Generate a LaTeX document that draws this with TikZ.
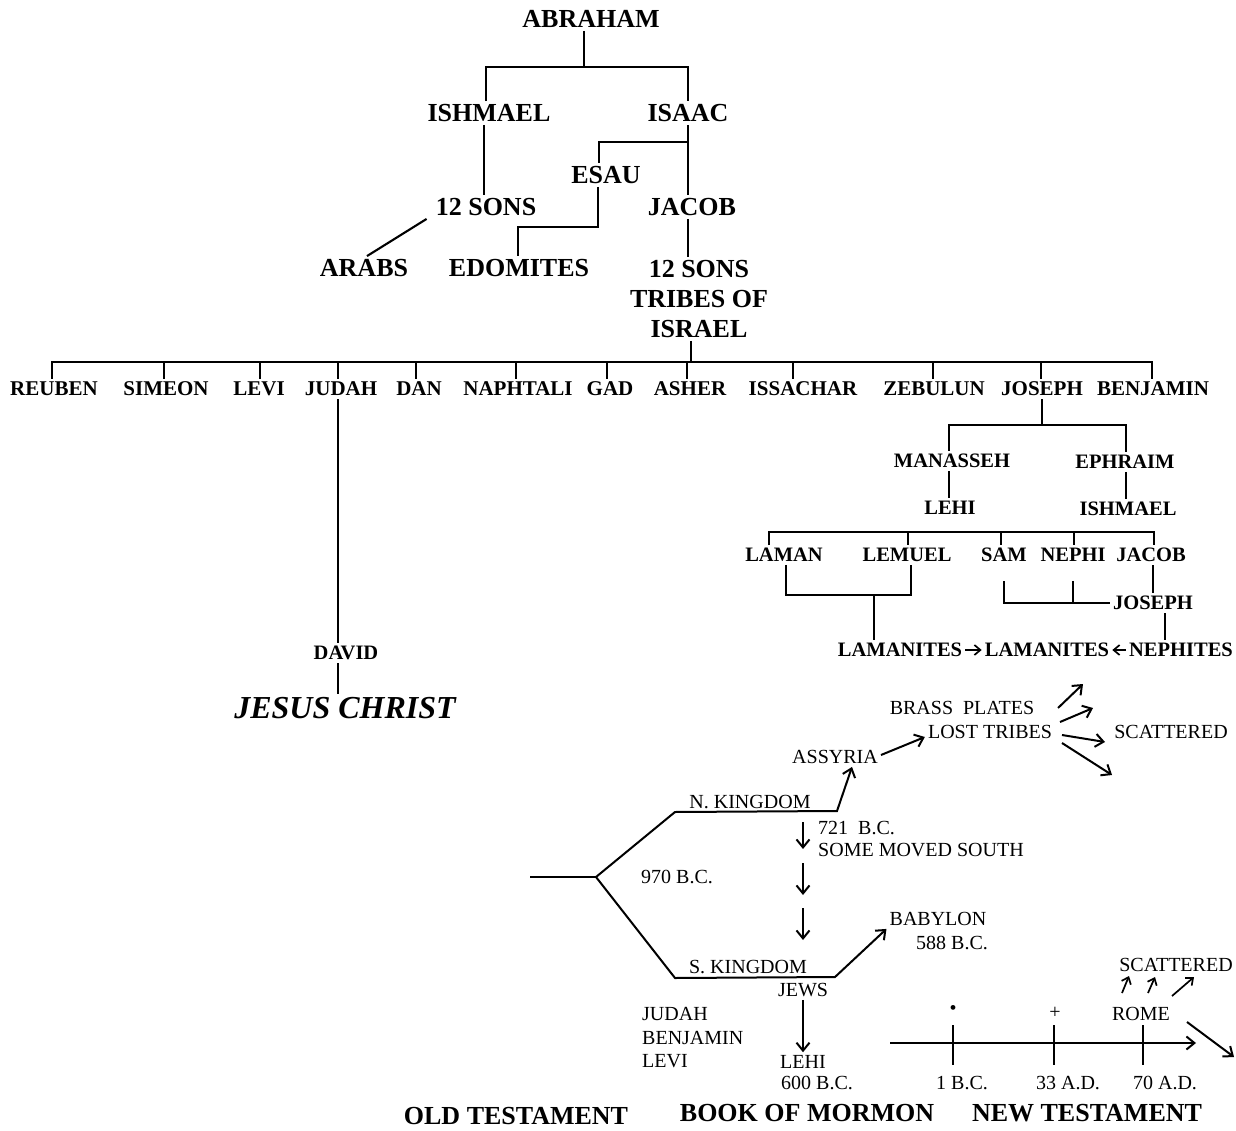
\documentclass[tikz,border=0pt]{standalone}
\usepackage{fontspec}
\setmainfont{Liberation Serif}
\usetikzlibrary{arrows.meta}
\tikzset{
  bigtxt/.style={font=\fontsize{26}{30}\selectfont\bfseries, inner sep=3pt},
  tribetxt/.style={font=\fontsize{21}{24}\selectfont\bfseries, inner sep=3pt},
  midtxt/.style={font=\fontsize{20.5}{24}\selectfont\bfseries, inner sep=3pt},
  regtxt/.style={font=\fontsize{20}{23.5}\selectfont, inner sep=3pt},
  jesustxt/.style={font=\fontsize{32}{36}\selectfont\bfseries\itshape, inner sep=3pt},
  ln/.style={line width=2.1pt},
  arr/.style={line width=2pt, -{Straight Barb[length=8pt,width=13pt]}},
  arrsm/.style={line width=1.7pt, -{Straight Barb[length=6pt,width=10pt]}},
}
\begin{document}
\begin{tikzpicture}[x=1pt,y=-1pt]
\fill[white] (0,0) rectangle (1236,1131);
\useasboundingbox (0,0) rectangle (1236,1131);

% ---------- top family tree ----------
\node[bigtxt] (abraham) at (591,19) {ABRAHAM};
\node[bigtxt] (ishmael) at (489,113) {ISHMAEL};
\node[bigtxt] (isaac) at (688,113) {ISAAC};
\node[bigtxt] (esau) at (606,175) {ESAU};
\node[bigtxt] (sons1) at (486,207) {12 SONS};
\node[bigtxt] (jacob) at (692,207) {JACOB};
\node[bigtxt] (arabs) at (364,268) {ARABS};
\node[bigtxt] (edomites) at (519,268) {EDOMITES};
\node[bigtxt, align=center, anchor=north] (tribes) at (699,257) {12 SONS\\TRIBES OF\\ISRAEL};

\draw[ln] (584,0 |- abraham.south) -- (584,67);
\draw[ln] (486,0 |- ishmael.north) |- (584,67) -| (688,0 |- isaac.north);
\draw[ln] (484,0 |- ishmael.south) -- (484,0 |- sons1.north);
\draw[ln] (688,0 |- isaac.south) -- (688,0 |- jacob.north);
\draw[ln] (688,142) -| (599,0 |- esau.north);
\draw[ln] (598,0 |- esau.south) |- (518,227) -- (518,0 |- edomites.north);
\draw[ln] ([xshift=-6]sons1.south west) -- ([xshift=3]arabs.north);
\draw[ln] (688,0 |- jacob.south) -- (688,0 |- tribes.north);
\draw[ln] (691,0 |- tribes.south) -- (691,362);

% ---------- tribes ----------
\node[tribetxt] (reuben) at (54,389) {REUBEN};
\node[tribetxt] (simeon) at (166,389) {SIMEON};
\node[tribetxt] (levi) at (259,389) {LEVI};
\node[tribetxt] (judah) at (341,389) {JUDAH};
\node[tribetxt] (dan) at (419,389) {DAN};
\node[tribetxt] (naphtali) at (518,389) {NAPHTALI};
\node[tribetxt] (gad) at (610,389) {GAD};
\node[tribetxt] (asher) at (690,389) {ASHER};
\node[tribetxt] (issachar) at (803,389) {ISSACHAR};
\node[tribetxt] (zebulun) at (934,389) {ZEBULUN};
\node[tribetxt] (joseph) at (1042,389) {JOSEPH};
\node[tribetxt] (benjamin) at (1153,389) {BENJAMIN};

\draw[ln] (52,0 |- reuben.north) |- (1152,362) -- (1152,0 |- benjamin.north);
\foreach \n/\x in {simeon/164, levi/260, judah/338, dan/416, naphtali/516, gad/607, asher/687, issachar/793, zebulun/933, joseph/1041}
  \draw[ln] (\x,362) -- (\x,0 |- \n.north);

% ---------- Judah line ----------
\node[midtxt] (david) at (346,653) {DAVID};
\node[jesustxt] (jesus) at (345,708) {JESUS CHRIST};
\draw[ln] (338,0 |- judah.south) -- (338,0 |- david.north);
\draw[ln] (338,0 |- david.south) -- (338,0 |- jesus.north);

% ---------- Joseph line ----------
\node[midtxt] (manasseh) at (952,461) {MANASSEH};
\node[midtxt] (ephraim) at (1125,462) {EPHRAIM};
\node[midtxt] (lehi) at (950,508) {LEHI};
\node[midtxt] (ishmael2) at (1128,509) {ISHMAEL};
\draw[ln] (1042,0 |- joseph.south) -- (1042,425);
\draw[ln] (949,0 |- manasseh.north) |- (1126,425) -- (1126,0 |- ephraim.north);
\draw[ln] (949,0 |- manasseh.south) -- (949,0 |- lehi.north);
\draw[ln] (1126,0 |- ephraim.south) -- (1126,0 |- ishmael2.north);

\node[midtxt] (laman) at (784,555) {LAMAN};
\node[midtxt] (lemuel) at (907,555) {LEMUEL};
\node[midtxt] (sam) at (1004,555) {SAM};
\node[midtxt] (nephi) at (1073,555) {NEPHI};
\node[midtxt] (jacob2) at (1151,555) {JACOB};
\draw[ln] (769,0 |- laman.north) |- (1154,532) -- (1154,0 |- jacob2.north);
\foreach \n/\x in {lemuel/908, sam/1001, nephi/1074}
  \draw[ln] (\x,532) -- (\x,0 |- \n.north);

\node[midtxt] (joseph2) at (1153,603) {JOSEPH};
\node[midtxt] (lam1) at (900,650) {LAMANITES};
\node[midtxt] (lam2) at (1047,650) {LAMANITES};
\node[midtxt] (nephites) at (1181,650) {NEPHITES};

\draw[ln] (786,0 |- laman.south) |- (911,595) -- (911,0 |- lemuel.south);
\coordinate (llmid) at (874,595);
\draw[ln] (llmid) -- (llmid |- lam1.north);
\draw[ln] ([yshift=-16]sam.south) |- (joseph2.west);
\draw[ln] ([yshift=-16]nephi.south) -- (nephi.south |- joseph2.west);
\draw[ln] (1153,0 |- jacob2.south) -- (1153,0 |- joseph2.north);
\draw[ln] (1165,0 |- joseph2.south) -- (1165,0 |- nephites.north);
\draw[arrsm] (lam1) -- (lam2);
\draw[arrsm] (nephites) -- (lam2);

% ---------- kingdoms ----------
\coordinate (start) at (530,877);
\coordinate (fork) at (596,877);
\coordinate (nk1) at (675,812);
\coordinate (nk2) at (837,811);
\coordinate (sk1) at (675,978);
\coordinate (sk2) at (835,977);

\node[regtxt] (nk) at (750,802) {N. KINGDOM};
\node[regtxt] (sk) at (748,967) {S. KINGDOM};
\node[regtxt] (assyria) at (835,757) {ASSYRIA};
\node[regtxt] (brass) at (962,708) {BRASS~~PLATES};
\node[regtxt] (lost) at (990,732) {LOST TRIBES};
\node[regtxt] (scat1) at (1171,732) {SCATTERED};
\node[regtxt, anchor=west] (bc721) at (815,828) {721~~B.C.};
\node[regtxt, anchor=west] (south) at (815,850) {SOME MOVED SOUTH};
\node[regtxt] (bc970) at (677,877) {970 B.C.};
\node[regtxt] (babylon) at (938,919) {BABYLON};
\node[regtxt] (bc588) at (952,943) {588 B.C.};
\node[regtxt] (jews) at (803,990) {JEWS};
\node[regtxt] (lehi2) at (803,1062) {LEHI};
\node[regtxt] (bc600) at (817,1083) {600 B.C.};
\node[regtxt, anchor=west, align=left] (jbl) at (639,1038) {JUDAH\\BENJAMIN\\LEVI};

\draw[ln] (start) -- (fork);
\draw[arr] (fork) -- (nk1) -- (nk2) -- ([xshift=17]assyria.south);
\draw[arr] (fork) -- (sk1) -- (sk2) -- (babylon.south west);
\draw[arr] ([yshift=2]assyria.east) -- ([yshift=-5]lost.west);

\coordinate (a1s) at (1058,708); \coordinate (a1e) at (1083,684);
\coordinate (a2s) at (1060,722); \coordinate (a2e) at (1093,708);
\coordinate (a3s) at (1062,735); \coordinate (a3e) at (1105,742);
\coordinate (a4s) at (1062,743); \coordinate (a4e) at (1112,775);
\draw[arr] (a1s) -- (a1e);
\draw[arr] (a2s) -- (a2e);
\draw[arr] (a3s) -- (a3e);
\draw[arr] (a4s) -- (a4e);

\coordinate (d1) at (803,822); \coordinate (d2) at (803,849);
\coordinate (d3) at (803,863); \coordinate (d4) at (803,895);
\coordinate (d5) at (803,908); \coordinate (d6) at (803,940);
\draw[arr] (d1) -- (d2);
\draw[arr] (d3) -- (d4);
\draw[arr] (d5) -- (d6);
\draw[arr] (jews.south) -- (lehi2.north);

% ---------- timeline ----------
\coordinate (t0) at (890,1043);
\coordinate (t1) at (1196,1043);
\draw[arr] (t0) -- (t1);
\node[regtxt] (bull) at (953,1010) {•};
\node[regtxt] (plus) at (1055,1013) {+};
\node[regtxt] (rome) at (1141,1014) {ROME};
\node[regtxt] (scat2) at (1176,965) {SCATTERED};
\node[regtxt] (bc1) at (962,1083) {1 B.C.};
\node[regtxt] (ad33) at (1068,1083) {33 A.D.};
\node[regtxt] (ad70) at (1165,1083) {70 A.D.};
\draw[ln] (bull |- 0,1025) -- (bull |- 0,1065);
\draw[ln] (1054,1025) -- (1054,1065);
\draw[ln] (1143,1025) -- (1143,1065);

\coordinate (r1s) at (1122,993); \coordinate (r1e) at (1129,976);
\coordinate (r2s) at (1148,993); \coordinate (r2e) at (1155,977);
\coordinate (r3s) at (1172,996); \coordinate (r3e) at (1194,977);
\draw[arrsm] (r1s) -- (r1e);
\draw[arrsm] (r2s) -- (r2e);
\draw[arrsm] (r3s) -- (r3e);
\coordinate (x1) at (1187,1022); \coordinate (x2) at (1234,1057);
\draw[arr] (x1) -- (x2);

% ---------- section labels ----------
\node[bigtxt] (ot) at (516,1116) {OLD TESTAMENT};
\node[bigtxt] (bom) at (807,1113) {BOOK OF MORMON};
\node[bigtxt] (nt) at (1087,1113) {NEW TESTAMENT};
\end{tikzpicture}
\end{document}
